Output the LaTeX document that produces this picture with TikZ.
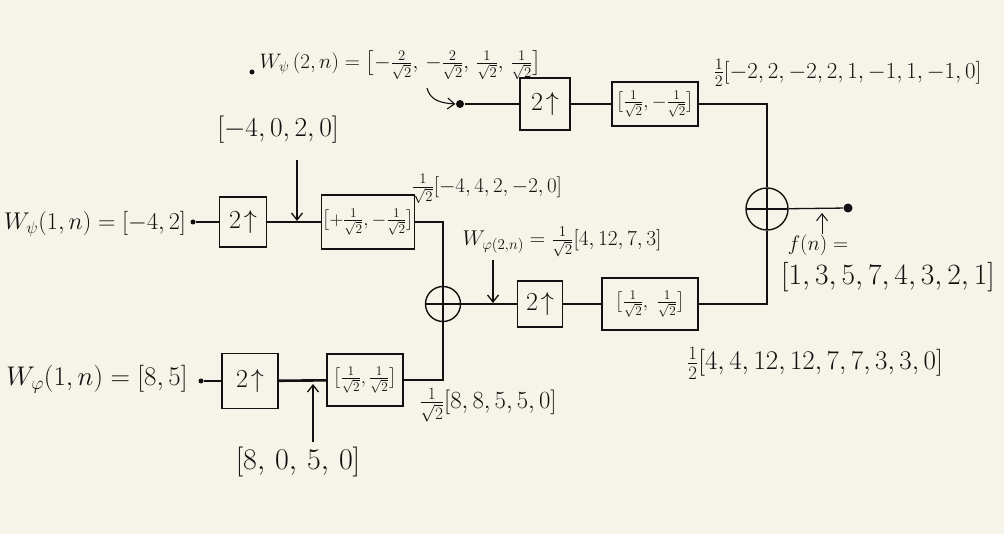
\RequirePackage{fix-cm}
\documentclass[tikz,border=0pt]{standalone}
\usepackage{amsmath}
\usetikzlibrary{arrows.meta}
\definecolor{paper}{HTML}{F6F3E8}
\definecolor{ink}{HTML}{111111}
\begin{document}
\begin{tikzpicture}[x=1pt,y=-1pt, line width=1.3pt, draw=ink, text=ink,
  blk/.style={draw, line width=1.4pt, inner sep=1pt, align=center},
  big/.style={font=\fontsize{26}{30}\selectfont},
  lbl/.style={font=\fontsize{#1}{#1}\selectfont, inner sep=0pt},
  lbl/.default=21,
  filt/.style={font=\fontsize{19}{22}\selectfont},
  add/.style={draw, circle, line width=1.4pt, minimum size=#1, inner sep=0pt,
    path picture={\draw[line width=1.3pt] (path picture bounding box.north) -- (path picture bounding box.south)
      (path picture bounding box.west) -- (path picture bounding box.east);}},
  dot/.style={circle, fill=ink, inner sep=0pt, minimum size=#1},
  arr/.style={-{Straight Barb[length=7pt,width=11pt]}}
]
\fill[paper] (0,0) rectangle (1004,534);
\useasboundingbox (0,0) rectangle (1004,534);

% ---------- top branch ----------
\node[dot=5pt] (d0) at (252,72) {};
\node[lbl=21, anchor=west] (topL) at (259,65) {$W_{\psi}\,(2,n)=\bigl[-\tfrac{2}{\sqrt2},\,-\tfrac{2}{\sqrt2},\,\tfrac{1}{\sqrt2},\,\tfrac{1}{\sqrt2}\bigr]$};
\node[dot=8pt] (d1) at (460,104) {};
\coordinate (c1) at (427,88);
\draw[arr, line width=1.1pt] (c1) .. controls (430,100) and (440,103) .. (d1.west);
\node[blk, big, minimum width=50pt, minimum height=52pt] (up1) at (545,104) {$2\!\uparrow$};
\node[blk, filt, minimum width=86pt, minimum height=44pt] (h1) at (655,104) {$\bigl[\frac{1}{\sqrt2},-\frac{1}{\sqrt2}\bigr]$};
\node[lbl=22.9, anchor=west] (topR) at (713,73) {$\frac{1}{2}[-2,2,-2,2,1,-1,1,-1,0]$};

% ---------- output adder ----------
\node[add=42pt] (a1) at (767,209) {};
\node[dot=9pt] (d2) at (848,208) {};
\coordinate (f0) at (822,234);
\coordinate (f1) at (822,213);
\node[lbl=21] (fn) at (818,245) {$f(n)=$};
\node[lbl=29.5] (fv) at (888,277) {$[1,3,5,7,4,3,2,1]$};

\draw (d1) -- (up1);
\draw (up1) -- (h1);
\draw (h1.east) -| (a1.north);
\draw (a1) -- (d2);
\draw[arr, line width=1pt] (f0) -- (f1);

% ---------- middle branch ----------
\node[blk, filt, minimum width=96pt, minimum height=52pt] (h2) at (650,304) {$\bigl[\frac{1}{\sqrt2},\ \frac{1}{\sqrt2}\bigr]$};
\node[blk, big, minimum width=45pt, minimum height=46pt] (up2) at (540,304) {$2\!\uparrow$};
\node[add=35pt] (a2) at (443,304) {};
\node[lbl=21.4] (w2) at (562,242) {$W_{\varphi(2,n)}=\frac{1}{\sqrt2}[4,12,7,3]$};
\coordinate (g0) at (493,260);
\coordinate (g1) at (493,303);
\node[lbl=27] (bot) at (815,363) {$\frac{1}{2}[4,4,12,12,7,7,3,3,0]$};

\draw (a1.south) |- (h2.east);
\draw (h2.west) -- (up2.east);
\draw (a2.east) -- (up2.west);
\draw[arr] (g0) -- (g1);

% ---------- left upper ----------
\node[lbl=24.2] (wpsi) at (95,224) {$W_{\psi}(1,n)=[-4,2]$};
\node[dot=5pt] (d3) at (193,222) {};
\node[blk, big, minimum width=47pt, minimum height=50pt] (up3) at (243,222) {$2\!\uparrow$};
\node[blk, filt, minimum width=82pt, minimum height=54pt] (h3) at (368,222) {$\bigl[+\frac{1}{\sqrt2},-\frac{1}{\sqrt2}\bigr]$};
\node[lbl=27.4] (s3) at (278,130) {$[-4,0,2,0]$};
\coordinate (p0) at (297,160);
\coordinate (p1) at (297,221);
\node[lbl=21] (r3) at (487,189) {$\frac{1}{\sqrt2}[-4,4,2,-2,0]$};

\draw (d3) -- (up3);
\draw (up3) -- (h3);
\draw[arr] (p0) -- (p1);
\draw (h3.east) -| (a2.north);

% ---------- left lower ----------
\node[lbl=27] (wphi) at (97,379) {$W_{\varphi}(1,n)=[8,5]$};
\node[dot=5pt] (d4) at (201,381) {};
\node[blk, big, minimum width=56pt, minimum height=55pt] (up4) at (250,381) {$2\!\uparrow$};
\node[blk, filt, minimum width=76pt, minimum height=52pt] (h4) at (365,380) {$\bigl[\frac{1}{\sqrt2},\frac{1}{\sqrt2}\bigr]$};
\node[lbl=30] (s4) at (298,462) {$[8,\,0,\,5,\,0]$};
\coordinate (q0) at (313,442);
\coordinate (q1) at (313,384);
\node[lbl=24.7] (r4) at (488,405) {$\frac{1}{\sqrt2}[8,8,5,5,0]$};

\draw (d4) -- (up4);
\draw[line width=2.6pt] (up4) -- (h4);
\draw[arr] (q0) -- (q1);
\draw (h4.east) -| (a2.south);
\end{tikzpicture}
\end{document}
